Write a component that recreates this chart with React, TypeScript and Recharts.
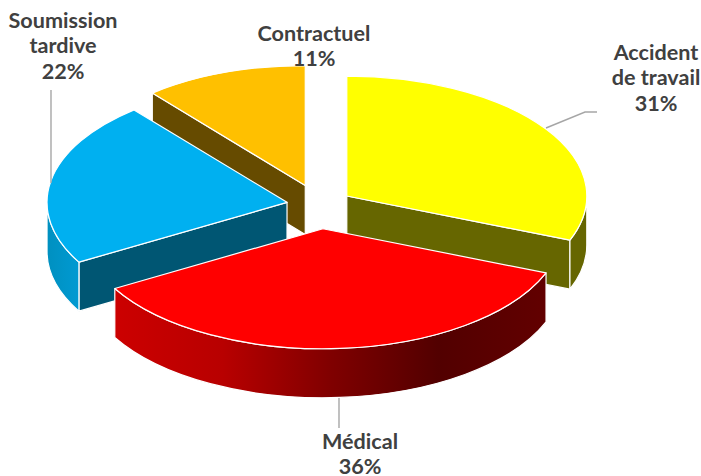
import { Pie, PieChart } from 'recharts';

const categories = ['Accident de travail', 'Médical', 'Soumission tardive', 'Contractuel'];
const shares = [31, 35.7, 22.3, 11];
const topColors = ['#ffff00', '#ff0000', '#00b0f0', '#ffc000'];
const sideColors = ['#666600', '#660000', '#005673', '#664b00'];
const wallFills = ['#666600', 'url(#redWall)', 'url(#blueWall)', '#664b00'];
const explosions = [33, 47, 33, 42];
// back to front, the slices overlap each other in this order
const drawOrder = [3, 2, 0, 1];

const labelLines = [['Accident', 'de travail'], ['Médical'], ['Soumission', 'tardive'], ['Contractuel']];
const labelX = [656, 360, 63, 314];
const labelY = [60, 449, 28, 41];
const leaders = [
  '546,128 585,112 597,112',
  '339,398 339,428',
  '51,90 51,183',
  '',
];

const data = categories.map((name, i) => ({ name, value: shares[i] }));

const TILT = 0.5;
const DEPTH = 49;
const rad = (deg: number) => (deg * Math.PI) / 180;

function TiltedSlice(props: any) {
  const { cx, cy, outerRadius: r, startAngle: s, endAngle: e, name } = props;
  const i = categories.indexOf(name);
  const mid = rad((s + e) / 2);
  const ox = cx + explosions[i] * Math.cos(mid);
  const oy = cy - explosions[i] * TILT * Math.sin(mid);
  const ry = r * TILT;
  const pt = (a: number, drop = 0) =>
    `${ox + r * Math.cos(rad(a))} ${oy - ry * Math.sin(rad(a)) + drop}`;
  const large = s - e > 180 ? 1 : 0;

  const radial = (a: number) =>
    `M${ox} ${oy}L${pt(a)}L${pt(a, DEPTH)}L${ox} ${oy + DEPTH}Z`;
  // a cut face shows only when it turns towards the viewer
  const startShows = Math.cos(rad(s)) < -0.01;
  const endShows = Math.cos(rad(e)) > 0.01;

  // only the part of the rim facing the viewer has a wall
  const hi = Math.min(s, 0);
  const lo = Math.max(e, -180);
  const wall =
    hi > lo
      ? `M${pt(hi)}A${r} ${ry} 0 0 1 ${pt(lo)}L${pt(lo, DEPTH)}A${r} ${ry} 0 0 0 ${pt(hi, DEPTH)}Z`
      : null;

  return (
    <g stroke="#ffffff" strokeWidth={1.2} strokeLinejoin="round">
      {startShows && <path d={radial(s)} fill={sideColors[i]} />}
      {endShows && <path d={radial(e)} fill={sideColors[i]} />}
      {wall && <path d={wall} fill={wallFills[i]} />}
      <path d={`M${ox} ${oy}L${pt(s)}A${r} ${ry} 0 ${large} 1 ${pt(e)}Z`} fill={topColors[i]} />
    </g>
  );
}

function SliceLabel(props: any) {
  const i = categories.indexOf(props.name);
  const lines = [...labelLines[i], `${Math.round(shares[i])}%`];
  return (
    <g>
      {leaders[i] && <polyline points={leaders[i]} fill="none" stroke="#a6a6a6" strokeWidth={1.4} />}
      <text
        x={labelX[i]}
        y={labelY[i]}
        textAnchor="middle"
        fontFamily="Lato"
        fontWeight={700}
        fontSize={21.6}
        fill="#404040"
      >
        {lines.map((line, n) => (
          <tspan key={line} x={labelX[i]} dy={n === 0 ? 0 : 25.3}>
            {line}
          </tspan>
        ))}
      </text>
    </g>
  );
}

export default function App() {
  return (
    <div style={{ position: 'absolute', left: 0, top: 0, width: 701, height: 476, overflow: 'hidden' }}>
      <PieChart width={701} height={476} margin={{ top: 0, right: 0, bottom: 0, left: 0 }}>
        <defs>
          <linearGradient id="redWall" x1="0" y1="0" x2="1" y2="0">
            <stop offset="0%" stopColor="#cc0000" />
            <stop offset="25%" stopColor="#b80000" />
            <stop offset="50%" stopColor="#800000" />
            <stop offset="75%" stopColor="#520000" />
            <stop offset="100%" stopColor="#620000" />
          </linearGradient>
          <linearGradient id="blueWall" x1="0" y1="0" x2="1" y2="0">
            <stop offset="0%" stopColor="#0090c0" />
            <stop offset="100%" stopColor="#009ad2" />
          </linearGradient>
        </defs>
        {drawOrder.map((sliceIndex) => (
          <Pie
            key={sliceIndex}
            data={data}
            dataKey="value"
            nameKey="name"
            cx={319.5}
            cy={205.3}
            outerRadius={240}
            startAngle={90}
            endAngle={-270}
            stroke="none"
            isAnimationActive={false}
            shape={(p: any) => (p.name === categories[sliceIndex] ? <TiltedSlice {...p} /> : <g />)}
          />
        ))}
        <Pie
          data={data}
          dataKey="value"
          nameKey="name"
          cx={319.5}
          cy={205.3}
          outerRadius={240}
          startAngle={90}
          endAngle={-270}
          isAnimationActive={false}
          shape={() => <g />}
          label={SliceLabel}
          labelLine={false}
        />
      </PieChart>
    </div>
  );
}
